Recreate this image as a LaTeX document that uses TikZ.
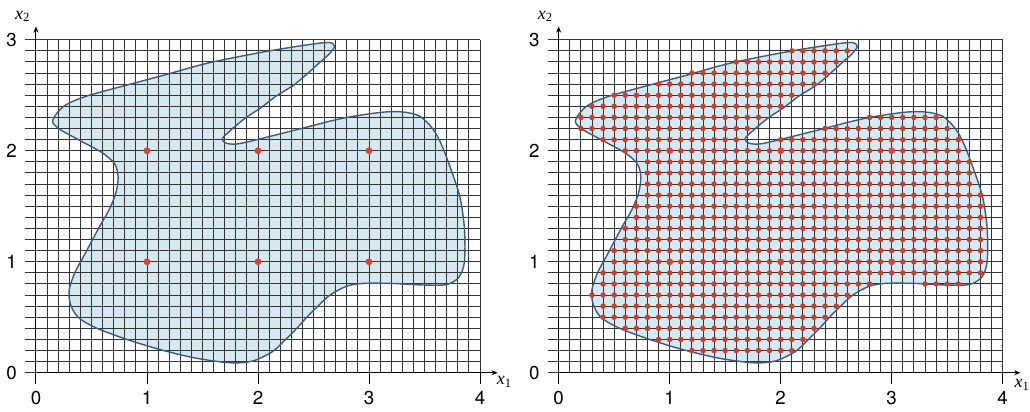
\documentclass[tikz,border=0pt]{standalone}
\usepackage{fontspec}
\setsansfont{TeX Gyre Heros}
\newfontfamily\axisfont{Liberation Serif}
\usetikzlibrary{arrows.meta}

\definecolor{blobfill}{HTML}{D6E9F1}
\definecolor{blobedge}{HTML}{3E5B7A}
\definecolor{gridcolor}{HTML}{333333}
\definecolor{dotcolor}{HTML}{E2402E}

\tikzset{
	gridline/.style={draw=gridcolor, line width=0.6pt},
	axisline/.style={draw=black, line width=0.6pt},
	axisarrow/.style={axisline, -{Stealth[length=4pt,width=3.2pt]}},
	region/.style={fill=blobfill},
	regionedge/.style={draw=blobedge, line width=0.9pt},
	ticklabel/.style={font=\sffamily\fontsize{12}{14}\selectfont, inner sep=0pt},
	axislabel/.style={font=\axisfont\fontsize{11.5}{13}\selectfont, inner sep=0pt},
	bigdot/.style={fill=dotcolor},
	smalldot/.style={fill=dotcolor!92!black}
}

% outline of the region
\newcommand{\blobpath}{plot[smooth cycle, tension=0.5] coordinates {
	(0.15,2.27) (0.25,2.40) (0.45,2.49) (0.85,2.60) (1.15,2.68) (1.55,2.79)
	(2.05,2.89) (2.45,2.955) (2.64,2.975) (2.69,2.94) (2.64,2.87) (2.55,2.79)
	(2.44,2.69) (2.32,2.59) (2.16,2.49) (2.03,2.39) (1.88,2.29) (1.76,2.19)
	(1.68,2.11) (1.71,2.07) (1.80,2.06) (1.95,2.09) (2.35,2.19) (2.75,2.29)
	(3.10,2.345) (3.30,2.35) (3.46,2.31) (3.58,2.19) (3.66,2.04) (3.75,1.80)
	(3.82,1.58) (3.86,1.30) (3.86,1.00) (3.81,0.86) (3.70,0.795) (3.50,0.79)
	(3.20,0.805) (2.95,0.805) (2.80,0.78) (2.65,0.70) (2.54,0.60) (2.44,0.50)
	(2.35,0.40) (2.25,0.30) (2.13,0.19) (1.95,0.105) (1.75,0.09) (1.45,0.13)
	(1.15,0.20) (0.85,0.29) (0.55,0.40) (0.38,0.50) (0.31,0.62) (0.30,0.75)
	(0.35,0.90) (0.43,1.05) (0.51,1.20) (0.58,1.33) (0.66,1.47) (0.72,1.62)
	(0.74,1.76) (0.71,1.88) (0.60,1.98) (0.40,2.09) (0.22,2.19)}}

% one panel: region, grid, axes, labels (#2 = position of x1 label)
\newcommand{\gridpanel}[2]{%
	\fill[region] \blobpath;
	\foreach \j in {0,...,30} \draw[gridline] (-0.1,\j/10) -- (4,\j/10);
	\foreach \i in {0,...,40} \draw[gridline] (\i/10,0) -- (\i/10,3);
	\foreach \i in {0,...,4} {
		\draw[axisline] (\i,0) -- (\i,-0.1);
		\node[ticklabel] (#1-x\i) at (\i,-0.23) {\i};
	}
	\foreach \j in {0,...,3} \node[ticklabel] (#1-y\j) at (-0.22,\j) {\j};
	\draw[axisarrow] (0,0) -- (4.16,0);
	\draw[axisarrow] (0,0) -- (0,3.12);
	\node[axislabel] (#1-xone) at (#2) {\itshape x\textsubscript{\upshape 1}};
	\node[axislabel] (#1-xtwo) at (-0.12,3.21) {\itshape x\textsubscript{\upshape 2}};
	\draw[regionedge] \blobpath;
}

\newcommand{\bigdots}{%
	\foreach \i in {1,2,3} \foreach \j in {1,2}
		\fill[bigdot] (\i,\j) circle (0.031);
}

\begin{document}
\begin{tikzpicture}[x=2.5cm, y=2.5cm]
	\useasboundingbox (-0.324,-0.345) rectangle (8.955,3.358);
	
	% left panel
	\gridpanel{L}{4.22,-0.08}
	\bigdots
	
	% right panel
	\begin{scope}[shift={(4.709,0)}]
		\gridpanel{R}{4.175,-0.11}
		% row / first column / last column (in tenths)
		\foreach \j/\a/\b in {29/21/26, 28/16/25, 27/12/24, 26/9/23, 25/5/21,
			24/3/20, 23/2/18, 23/28/34, 22/2/17, 22/24/35, 21/4/16, 21/20/36,
			20/6/36, 19/8/37, 18/8/37, 17/8/37, 16/8/38, 15/7/38, 14/7/38,
			13/6/38, 12/6/38, 11/5/38, 10/5/38, 9/4/38, 8/4/28, 8/33/36,
			7/3/26, 6/4/25, 5/4/24, 4/6/23, 3/9/22, 2/12/21}
			\foreach \i in {\a,...,\b}
				\fill[smalldot] (\i/10,\j/10) circle (0.025);
		\bigdots
	\end{scope}
	
\end{tikzpicture}
\end{document}
